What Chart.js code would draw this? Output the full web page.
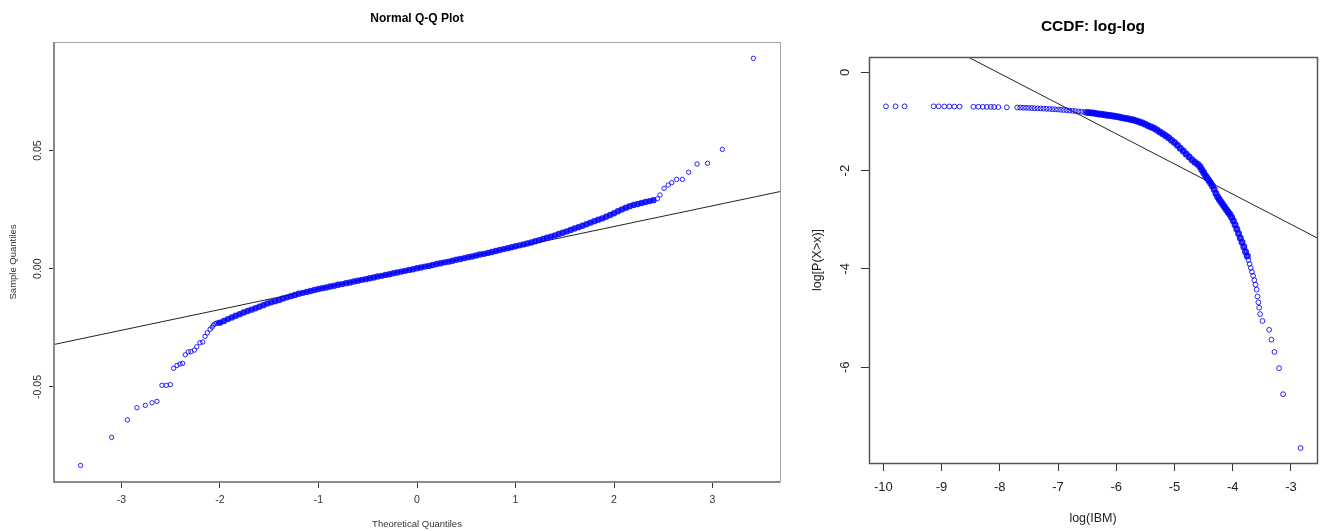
<!DOCTYPE html>
<html>
<head>
<meta charset="utf-8">
<script src="https://cdn.jsdelivr.net/npm/chart.js@4/dist/chart.umd.min.js"></script>
<style>
  html, body { margin:0; padding:0; background:#fff; width:1328px; height:531px; overflow:hidden; }
  #qq { position:absolute; left:0; top:0; }
  #ccdf { position:absolute; left:800px; top:0; }
</style>
</head>
<body>
<canvas id="qq" width="800" height="531"></canvas>
<canvas id="ccdf" width="528" height="531"></canvas>
<script>
// ---------- Normal Q-Q plot data ----------
// lower tail (sparse points)
const qqTailLowX = [-3.415,-3.10,-2.94,-2.843,-2.758,-2.69,-2.64,-2.589,-2.545,-2.504,-2.47,-2.437,-2.406,-2.379,-2.352,-2.322,-2.294,-2.26,-2.236,-2.203,-2.175,-2.152,-2.128,-2.10,-2.08,-2.067,-2.05,-2.032,-2.015];
const qqTailLowY = [-0.0832,-0.0713,-0.0639,-0.0588,-0.0578,-0.0567,-0.0561,-0.0493,-0.0493,-0.0490,-0.0421,-0.0409,-0.0403,-0.0400,-0.0364,-0.0352,-0.0351,-0.0344,-0.0330,-0.0313,-0.0310,-0.0286,-0.0271,-0.0256,-0.0247,-0.0238,-0.0233,-0.0230,-0.0229];
// dense body
const qqBodyX = [
  -2.00,-1.96,-1.92,-1.88,-1.84,-1.80,-1.76,-1.72,-1.68,-1.64,-1.60,-1.56,-1.52,-1.48,-1.44,-1.40,-1.36,-1.32,-1.28,-1.24,-1.20,-1.16,-1.12,-1.08,-1.04,-1.00,
  -0.96,-0.92,-0.88,-0.84,-0.80,-0.76,-0.72,-0.68,-0.64,-0.60,-0.56,-0.52,-0.48,-0.44,-0.40,-0.36,-0.32,-0.28,-0.24,-0.20,-0.16,-0.12,-0.08,-0.04,
  0.00,0.04,0.08,0.12,0.16,0.20,0.24,0.28,0.32,0.36,0.40,0.44,0.48,0.52,0.56,0.60,0.64,0.68,0.72,0.76,0.80,0.84,0.88,0.92,0.96,
  1.00,1.04,1.08,1.12,1.16,1.20,1.24,1.28,1.32,1.36,1.40,1.44,1.48,1.52,1.56,1.60,1.64,1.68,1.72,1.76,1.80,1.84,1.88,1.92,1.96,
  2.00,2.04,2.08,2.12,2.16,2.20,2.24,2.28,2.32,2.36,2.40
];
const qqBodyY = [
  -0.0228,-0.0221,-0.0213,-0.0206,-0.0199,-0.0192,-0.0185,-0.0179,-0.0173,-0.0167,-0.0161,-0.0154,-0.0147,-0.0142,-0.0137,-0.0132,-0.0126,-0.0121,-0.0116,-0.0111,-0.0106,-0.0102,-0.0098,-0.0094,-0.0090,-0.0086,
  -0.0082,-0.0079,-0.0075,-0.0072,-0.0068,-0.0065,-0.0061,-0.0058,-0.0054,-0.0051,-0.0047,-0.0044,-0.0040,-0.0037,-0.0033,-0.0030,-0.0026,-0.0023,-0.0019,-0.0016,-0.0012,-0.0009,-0.0005,-0.0002,
  0.0002,0.0005,0.0009,0.0012,0.0016,0.0020,0.0023,0.0027,0.0030,0.0034,0.0038,0.0041,0.0045,0.0049,0.0052,0.0056,0.0060,0.0063,0.0067,0.0071,0.0075,0.0079,0.0083,0.0087,0.0091,
  0.0095,0.0099,0.0103,0.0107,0.0111,0.0116,0.0121,0.0126,0.0131,0.0136,0.0141,0.0147,0.0152,0.0158,0.0164,0.0170,0.0176,0.0182,0.0188,0.0195,0.0201,0.0207,0.0213,0.0220,0.0227,
  0.0235,0.0243,0.0251,0.0258,0.0264,0.0270,0.0274,0.0278,0.0282,0.0286,0.0290
];
// upper tail (sparse points)
const qqTailHighX = [2.44,2.467,2.508,2.55,2.586,2.636,2.694,2.758,2.843,2.95,3.10,3.415];
const qqTailHighY = [0.0296,0.0312,0.0340,0.0354,0.0364,0.0378,0.0378,0.0408,0.0443,0.0446,0.0505,0.0890];
// reference line
const qqLineX = [-4, 4];
const qqLineY = [-0.0348, 0.0354];
const qqXTicks = [-3, -2, -1, 0, 1, 2, 3];
const qqXTickLabels = ['-3', '-2', '-1', '0', '1', '2', '3'];
const qqYTicks = [-0.05, 0, 0.05];
const qqYTickLabels = ['-0.05', '0.00', '0.05'];

// ---------- CCDF log-log data ----------
const ccdfSparseX = [-9.955,-9.79,-9.635,-9.136,-9.05,-8.952,-8.866,-8.78,-8.69,-8.454,-8.368,-8.292,-8.223,-8.155,-8.098,-8.024,-7.88,
  -7.70,-7.65,-7.60,-7.55,-7.50,-7.45,-7.40,-7.35,-7.30,-7.25,-7.20,-7.15,-7.10,-7.05,-7.00,-6.95,-6.90,-6.85,-6.80,-6.75,-6.70,-6.65,-6.60,-6.55];
const ccdfSparseY = [-0.692,-0.692,-0.692,-0.692,-0.692,-0.695,-0.695,-0.697,-0.697,-0.700,-0.700,-0.702,-0.703,-0.703,-0.705,-0.708,-0.712,
  -0.716,-0.718,-0.720,-0.722,-0.724,-0.727,-0.730,-0.732,-0.735,-0.738,-0.741,-0.745,-0.749,-0.753,-0.757,-0.762,-0.767,-0.772,-0.777,-0.783,-0.789,-0.795,-0.801,-0.808];
const ccdfBodyX = [
  -6.50,-6.45,-6.40,-6.35,-6.30,-6.25,-6.20,-6.15,-6.10,-6.05,-6.00,-5.95,-5.90,-5.85,-5.80,-5.75,-5.70,-5.65,-5.60,-5.55,
  -5.50,-5.45,-5.40,-5.35,-5.30,-5.25,-5.20,-5.15,-5.10,-5.05,-5.00,-4.95,-4.90,-4.85,-4.80,-4.75,-4.70,-4.65,-4.60,-4.56,
  -4.53,-4.50,-4.47,-4.44,-4.41,-4.38,-4.35,-4.32,-4.29,-4.26,-4.23,-4.20,-4.17,-4.14,-4.11,-4.08,-4.05,-4.02,-3.99,-3.96,
  -3.93,-3.90,-3.87,-3.84,-3.81,-3.78,-3.75
];
const ccdfBodyY = [
  -0.815,-0.822,-0.830,-0.838,-0.846,-0.854,-0.862,-0.871,-0.880,-0.890,-0.900,-0.911,-0.922,-0.934,-0.946,-0.958,-0.972,-0.990,-1.010,-1.032,
  -1.058,-1.085,-1.112,-1.140,-1.175,-1.212,-1.250,-1.290,-1.333,-1.380,-1.430,-1.485,-1.545,-1.600,-1.660,-1.720,-1.780,-1.830,-1.870,-1.920,
  -1.980,-2.040,-2.100,-2.150,-2.200,-2.250,-2.310,-2.380,-2.460,-2.530,-2.590,-2.640,-2.690,-2.740,-2.790,-2.840,-2.890,-2.950,-3.020,-3.100,
  -3.190,-3.280,-3.370,-3.460,-3.550,-3.650,-3.740
];
const ccdfTailX = [-3.73,-3.71,-3.69,-3.67,-3.65,-3.63,-3.61,-3.59,-3.575,-3.56,-3.546,-3.53,-3.49,-3.375,-3.336,-3.284,-3.204,-3.135,-2.835];
const ccdfTailY = [-3.820,-3.900,-3.980,-4.060,-4.140,-4.230,-4.320,-4.420,-4.560,-4.680,-4.790,-4.920,-5.060,-5.240,-5.440,-5.690,-6.020,-6.550,-7.645];
const ccdfLineX = [-9.0, -2.5];
const ccdfLineY = [0.591, -3.40];
const ccdfXTicks = [-10, -9, -8, -7, -6, -5, -4, -3];
const ccdfXTickLabels = ['-10', '-9', '-8', '-7', '-6', '-5', '-4', '-3'];
const ccdfYTicks = [-6, -4, -2, 0];
const ccdfYTickLabels = ['-6', '-4', '-2', '0'];

const FONT = '"Liberation Sans", Arial, Helvetica, sans-serif';
const BLUE = 'rgba(0,0,255,0.85)';
const toPts = (xs, ys) => xs.map((v, i) => ({ x: v, y: ys[i] }));

// plugin: R-style box, tick labels and titles drawn against the chart's own scales
const rStyle = {
  id: 'rStyle',
  afterDraw(chart, args, o) {
    const { ctx, chartArea: a, scales: { x, y } } = chart;
    ctx.save();
    ctx.lineWidth = o.boxWidth;
    ctx.strokeStyle = o.boxColor;
    ctx.strokeRect(Math.round(a.left) + 0.5, Math.round(a.top) + 0.5, Math.round(a.right - a.left), Math.round(a.bottom - a.top));
    if (o.axisColor) {
      ctx.lineWidth = o.axisWidth;
      ctx.strokeStyle = o.axisColor;
      ctx.beginPath();
      ctx.moveTo(a.left, a.top); ctx.lineTo(a.left, a.bottom); ctx.lineTo(a.right, a.bottom);
      ctx.stroke();
    }
    ctx.fillStyle = o.tickColor;
    ctx.font = o.tickSize + 'px ' + FONT;
    ctx.textAlign = 'center';
    ctx.textBaseline = 'middle';
    o.xTicks.forEach((v, i) => ctx.fillText(o.xLabels[i], x.getPixelForValue(v), a.bottom + o.xLabelOff));
    o.yTicks.forEach((v, i) => {
      ctx.save();
      ctx.translate(a.left - o.yLabelOff, y.getPixelForValue(v));
      ctx.rotate(-Math.PI / 2);
      ctx.fillText(o.yLabels[i], 0, 0);
      ctx.restore();
    });
    ctx.fillStyle = o.axisTitleColor;
    ctx.font = o.axisTitleSize + 'px ' + FONT;
    ctx.fillText(o.xTitle, (a.left + a.right) / 2, a.bottom + o.xTitleOff);
    ctx.save();
    ctx.translate(a.left - o.yTitleOff, (a.top + a.bottom) / 2);
    ctx.rotate(-Math.PI / 2);
    ctx.fillText(o.yTitle, 0, 0);
    ctx.restore();
    ctx.fillStyle = '#000';
    ctx.font = 'bold ' + o.titleSize + 'px ' + FONT;
    ctx.fillText(o.title, (a.left + a.right) / 2, a.top - o.titleOff);
    ctx.restore();
  }
};

function makeScale(min, max, ticks, tickLen, fitProp, fitVal) {
  return {
    type: 'linear', min, max,
    afterBuildTicks: s => { s.ticks = ticks.map(v => ({ value: v })); },
    afterFit: s => { s[fitProp] = fitVal; },
    ticks: { display: false },
    grid: { display: true, drawOnChartArea: false, drawTicks: true, tickLength: tickLen, color: '#333', lineWidth: 1 },
    border: { display: false }
  };
}
function pts(xs, ys, r, bw) {
  return { data: toPts(xs, ys), pointStyle: 'circle', pointRadius: r, pointBorderWidth: bw,
           borderColor: BLUE, backgroundColor: 'rgba(0,0,0,0)', pointHoverRadius: r };
}

new Chart(document.getElementById('qq'), {
  type: 'scatter',
  data: {
    datasets: [
      pts(qqTailLowX, qqTailLowY, 2.2, 1),
      pts(qqBodyX, qqBodyY, 1.7, 3),
      pts(qqTailHighX, qqTailHighY, 2.2, 1),
      { data: toPts(qqLineX, qqLineY), showLine: true, pointRadius: 0, borderColor: '#222', borderWidth: 1 }
    ]
  },
  options: {
    responsive: false, animation: false, devicePixelRatio: 1,
    layout: { padding: { left: 0, top: 42, right: 20, bottom: 0 } },
    scales: {
      x: makeScale(-3.685, 3.685, qqXTicks, 6, 'height', 49),
      y: makeScale(-0.0902, 0.0959, qqYTicks, 5, 'width', 54)
    },
    plugins: {
      legend: { display: false }, tooltip: { enabled: false },
      rStyle: {
        boxColor: '#a6a6a6', boxWidth: 1, axisColor: '#8a8a8a', axisWidth: 2,
        tickColor: '#333', tickSize: 10.5, xTicks: qqXTicks, xLabels: qqXTickLabels, xLabelOff: 18.5,
        yTicks: qqYTicks, yLabels: qqYTickLabels, yLabelOff: 16,
        axisTitleColor: '#333', axisTitleSize: 9.5, xTitle: 'Theoretical Quantiles', xTitleOff: 42.5,
        yTitle: 'Sample Quantiles', yTitleOff: 41,
        title: 'Normal Q-Q Plot', titleSize: 12, titleOff: 23.7
      }
    }
  },
  plugins: [rStyle]
});

new Chart(document.getElementById('ccdf'), {
  type: 'scatter',
  data: {
    datasets: [
      pts(ccdfSparseX, ccdfSparseY, 2.4, 1),
      pts(ccdfBodyX, ccdfBodyY, 2.0, 3),
      pts(ccdfTailX, ccdfTailY, 2.4, 1),
      { data: toPts(ccdfLineX, ccdfLineY), showLine: true, pointRadius: 0, borderColor: '#222', borderWidth: 1 }
    ]
  },
  options: {
    responsive: false, animation: false, devicePixelRatio: 1,
    layout: { padding: { left: 0, top: 57, right: 11, bottom: 0 } },
    scales: {
      x: makeScale(-10.246, -2.553, ccdfXTicks, 8, 'height', 68),
      y: makeScale(-7.95, 0.312, ccdfYTicks, 8, 'width', 69)
    },
    plugins: {
      legend: { display: false }, tooltip: { enabled: false },
      rStyle: {
        boxColor: '#555', boxWidth: 1.5, axisColor: null, axisWidth: 0,
        tickColor: '#222', tickSize: 13, xTicks: ccdfXTicks, xLabels: ccdfXTickLabels, xLabelOff: 24,
        yTicks: ccdfYTicks, yLabels: ccdfYTickLabels, yLabelOff: 24,
        axisTitleColor: '#222', axisTitleSize: 12.5, xTitle: 'log(IBM)', xTitleOff: 56,
        yTitle: 'log[P(X>x)]', yTitleOff: 51.5,
        title: 'CCDF: log-log', titleSize: 15.5, titleOff: 30.7
      }
    }
  },
  plugins: [rStyle]
});
</script>
</body>
</html>
